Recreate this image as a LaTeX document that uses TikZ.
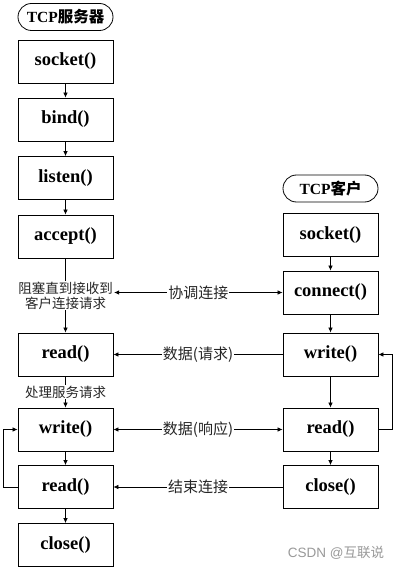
\documentclass[tikz,border=0pt]{standalone}
\usepackage{fontspec}
\setmainfont{Liberation Serif}
\newfontfamily\cjk{Noto Sans CJK SC}
\newfontfamily\wmfont{Liberation Sans}
\usetikzlibrary{arrows.meta}
\begin{document}
\begin{tikzpicture}[x=1pt,y=-1pt,
  fn/.style={draw,line width=0.8pt,minimum width=95pt,minimum height=43pt,inner sep=0pt,
    font=\fontsize{18.5}{18.5}\selectfont\bfseries},
  term/.style={draw,line width=0.8pt,rounded corners=13.5pt,minimum width=95pt,minimum height=27pt,inner sep=0pt,
    font=\fontsize{15.5}{15.5}\selectfont\bfseries},
  lbl/.style={fill=white,inner sep=1pt,text=black!85,font=\fontsize{13.5}{15}\selectfont\cjk,align=center},
  ilbl/.style={lbl,font=\fontsize{15}{15}\selectfont\cjk},
  conn/.style={line width=0.7pt,-{Latex[length=5pt,width=4.5pt]}},
  dconn/.style={line width=0.7pt,{Latex[length=5pt,width=4.5pt]}-{Latex[length=5pt,width=4.5pt]}}]
\fill[white] (0,0) rectangle (401,572);
\useasboundingbox (0,0) rectangle (401,572);
% server
\node[term] (sterm) at (65.5,17) {TCP{\cjk\bfseries 服务器}};
\node[fn] (ssocket) at (65.5,61.5) {socket()};
\node[fn] (sbind) at (65.5,119.5) {bind()};
\node[fn] (slisten) at (65.5,178) {listen()};
\node[fn] (saccept) at (65.5,236.5) {accept()};
\node[fn] (sread) at (65.5,354.5) {read()};
\node[fn] (swrite) at (65.5,429.5) {write()};
\node[fn] (sread2) at (65.5,487) {read()};
\node[fn] (sclose) at (65.5,545) {close()};
% client
\node[term] (cterm) at (330.5,188.5) {TCP{\cjk\bfseries 客户}};
\node[fn] (csocket) at (330.5,235) {socket()};
\node[fn] (cconnect) at (330.5,292.5) {connect()};
\node[fn] (cwrite) at (330.5,354.5) {write()};
\node[fn] (cread) at (330.5,429.5) {read()};
\node[fn] (cclose) at (330.5,487) {close()};
% server flow
\draw[conn] (ssocket) -- (sbind);
\draw[conn] (sbind) -- (slisten);
\draw[conn] (slisten) -- (saccept);
\draw[conn] (saccept) -- node[lbl] (block) {阻塞直到接收到\\客户连接请求} (sread);
\draw[conn] (sread) -- node[lbl] (proc) {处理服务请求} (swrite);
\draw[conn] (swrite) -- (sread2);
\draw[conn] (sread2) -- (sclose);
\draw[conn] (sread2.west) -- ++(-14,0) |- (swrite.west);
% client flow
\draw[conn] (csocket) -- (cconnect);
\draw[conn] (cconnect) -- (cwrite);
\draw[conn] (cwrite) -- (cread);
\draw[conn] (cread) -- (cclose);
\draw[conn] (cread.east) -- ++(14,0) |- (cwrite.east);
% interactions
\draw[dconn] (cconnect.west -| block.east) -- node[ilbl] (c1) {协调连接} (cconnect.west);
\draw[conn] (cwrite.west) -- node[ilbl] (c2) {数据(请求)} (sread.east);
\draw[dconn] (swrite.east) -- node[ilbl] (c3) {数据(响应)} (cread.west);
\draw[conn] (cclose.west) -- node[ilbl] (c4) {结束连接} (sread2.east);
% watermark
\node[text=black!40,font=\fontsize{13.5}{15}\selectfont\wmfont,inner sep=0pt] (wm) at (336,553) {CSDN @{\cjk 互联说}};
\end{tikzpicture}
\end{document}
